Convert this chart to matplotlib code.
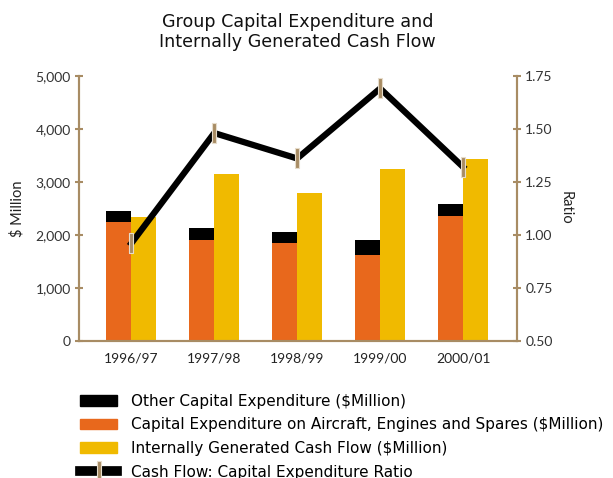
import matplotlib
matplotlib.use('Agg')
import matplotlib.pyplot as plt
from matplotlib.lines import Line2D
from matplotlib.patches import Patch
import numpy as np

plt.rcParams['font.family'] = ['Lato', 'DejaVu Sans']
plt.rcParams['font.size'] = 10

# Data ($ million, ratio)
years = ['1996/97', '1997/98', '1998/99', '1999/00', '2000/01']
capex_aircraft = [2240, 1900, 1845, 1620, 2355]
capex_other = [208, 228, 208, 282, 225]
cash_flow = [2335, 3145, 2787, 3239, 3427]
ratio = [0.96, 1.48, 1.36, 1.69, 1.32]

ORANGE = '#E8681C'
YELLOW = '#F0BA00'
TAN = '#A88C64'
TEXT_FONT = ['DejaVu Sans']

fig = plt.figure(figsize=(6.13, 4.78), dpi=100)
ax = fig.add_axes([0.1289, 0.2866, 0.7145, 0.555])

x = np.arange(len(years))
w = 0.30
ax.bar(x - w / 2, capex_aircraft, w, color=ORANGE, zorder=2)
ax.bar(x - w / 2, capex_other, w, bottom=capex_aircraft, color='black', zorder=2)
ax.bar(x + w / 2, cash_flow, w, color=YELLOW, zorder=2)

ax.set_ylim(0, 5000)
ax.set_xlim(-0.63, 4.65)
ax.set_yticks(range(0, 5001, 1000))
ax.set_yticklabels([f'{v:,}' for v in range(0, 5001, 1000)])
ax.set_xticks(x)
ax.set_xticklabels(years)
ax.set_ylabel('$ Million', fontsize=10.5, color='#222222', labelpad=8)

ax2 = ax.twinx()
ax2.set_ylim(0.5, 1.75)
ax2.set_yticks([0.5, 0.75, 1.0, 1.25, 1.5, 1.75])
ax2.set_yticklabels(['0.50', '0.75', '1.00', '1.25', '1.50', '1.75'])
ax2.set_ylabel('Ratio', fontsize=10.5, rotation=270, color='#222222', labelpad=14)

# ratio line with small vertical bar markers
tick_marker = [(-1, -4.5), (1, -4.5), (1, 4.5), (-1, 4.5), (-1, -4.5)]
ax2.plot(x, ratio, color='black', lw=4.5, zorder=3, solid_joinstyle='miter')
ax2.plot(x, ratio, ls='none', marker=tick_marker, ms=14, mfc=TAN,
         mec='#E6DCCB', mew=0.8, zorder=4)

for a in (ax, ax2):
    for s in a.spines.values():
        s.set_color(TAN)
        s.set_linewidth(1.5)
    a.spines['top'].set_visible(False)
    a.tick_params(axis='y', direction='inout', length=6, width=1.5, color=TAN,
                  labelsize=10, labelcolor='#333333', pad=3)
    a.tick_params(axis='x', length=0, labelsize=10, labelcolor='#222222', pad=8)

fig.text(0.485, 0.933, 'Group Capital Expenditure and\nInternally Generated Cash Flow',
         ha='center', va='center', fontsize=12.6, linespacing=1.1, color='#111111',
         family=TEXT_FONT)

handles = [
    Patch(color='black'),
    Patch(color=ORANGE),
    Patch(color=YELLOW),
    Line2D([], [], color='black', lw=7, marker=tick_marker, ms=15, mfc=TAN,
           mec='#E6DCCB', mew=0.8),
]
labels = [
    'Other Capital Expenditure ($Million)',
    'Capital Expenditure on Aircraft, Engines and Spares ($Million)',
    'Internally Generated Cash Flow ($Million)',
    'Cash Flow: Capital Expenditure Ratio',
]
fig.legend(handles, labels, loc='upper left', bbox_to_anchor=(0.131, 0.176),
           frameon=False, handlelength=2.4, handleheight=0.7,
           handletextpad=0.9, labelspacing=0.56, borderaxespad=0, borderpad=0,
           numpoints=1, prop={'family': TEXT_FONT, 'size': 11})

fig.savefig('out.png', dpi=100)
